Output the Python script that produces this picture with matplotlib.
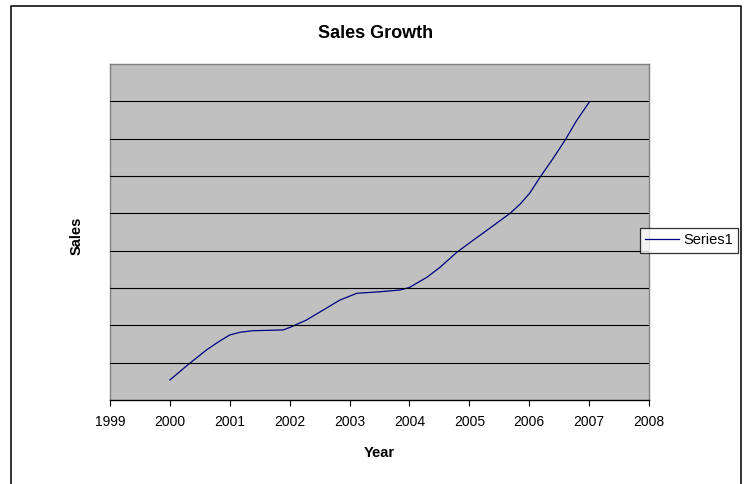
import matplotlib
matplotlib.use("Agg")
import matplotlib.pyplot as plt
from matplotlib.lines import Line2D

plt.rcParams['font.family'] = ['Liberation Sans', 'DejaVu Sans']

# Data (sales in arbitrary units; gridline step = 50)
years = [2000.0, 2000.31, 2000.61, 2000.84, 2001.0, 2001.17, 2001.39, 2001.89,
         2002.0, 2002.28, 2002.56, 2002.84, 2003.12, 2003.51, 2003.84, 2004.0,
         2004.29, 2004.51, 2004.79, 2005.07, 2005.34, 2005.68, 2005.85, 2006.01,
         2006.18, 2006.40, 2006.60, 2006.79, 2007.0]
sales = [26.8, 47.8, 67.0, 79.4, 87.1, 90.7, 92.8, 93.8,
         97.1, 107.1, 120.5, 133.9, 142.9, 145.0, 147.3, 150.7,
         164.3, 177.7, 197.8, 214.3, 230.0, 250.0, 262.5, 277.2,
         298.3, 323.7, 348.2, 374.1, 398.7]
xticks = list(range(1999, 2009))
title = "Sales Growth"
xlabel = "Year"
ylabel = "Sales"
series_name = "Series1"

W, H = 747, 484
fig = plt.figure(figsize=(W / 100, H / 100), dpi=100)
fig.patch.set_facecolor('white')

# outer chart border (left, top, right)
bx0, bx1, by0 = 11 / W, 741 / W, 1 - 5.5 / H
fig.add_artist(Line2D([bx0, bx0, bx1, bx1], [0, by0, by0, 0],
                      transform=fig.transFigure, color='#222222', lw=1.3))

ax = fig.add_axes([110 / W, (H - 400) / H, (649 - 110) / W, (400 - 64) / H])
ax.set_facecolor('#C0C0C0')
ax.plot(years, sales, color='#000080', lw=0.9, label=series_name)

ax.set_xlim(1999, 2008)
ax.set_ylim(0, 450)
ax.set_xticks(xticks)
ax.set_xticklabels([str(t) for t in xticks], fontsize=10)
ax.set_yticks(range(50, 450, 50))
ax.set_yticklabels([])
ax.tick_params(axis='y', length=0)
ax.tick_params(axis='x', direction='out', length=4, width=0.8, color='black', pad=7)
ax.grid(axis='y', color='black', lw=0.8)
ax.set_axisbelow(False)
for s in ['left', 'top', 'right']:
    ax.spines[s].set_color('#808080')
    ax.spines[s].set_linewidth(1.0)
ax.spines['bottom'].set_color('black')
ax.spines['bottom'].set_linewidth(1.0)

ax.set_xlabel(xlabel, fontsize=10.5, fontweight='bold', labelpad=12)
fig.text(77 / W, 1 - 236 / H, ylabel, rotation=90, fontsize=10.5,
         fontweight='bold', ha='center', va='center')
fig.text(376 / W, 1 - 34 / H, title, fontsize=13, fontweight='bold',
         ha='center', va='center')

leg = fig.legend(loc='center', bbox_to_anchor=(689 / W, 1 - 240.5 / H),
                 fontsize=10.5, frameon=True, fancybox=False, handlelength=2.3,
                 handletextpad=0.3, borderpad=0.35, borderaxespad=0)
leg.get_frame().set_edgecolor('black')
leg.get_frame().set_linewidth(0.9)
leg.get_frame().set_facecolor('white')

fig.savefig('out.png', dpi=100)
